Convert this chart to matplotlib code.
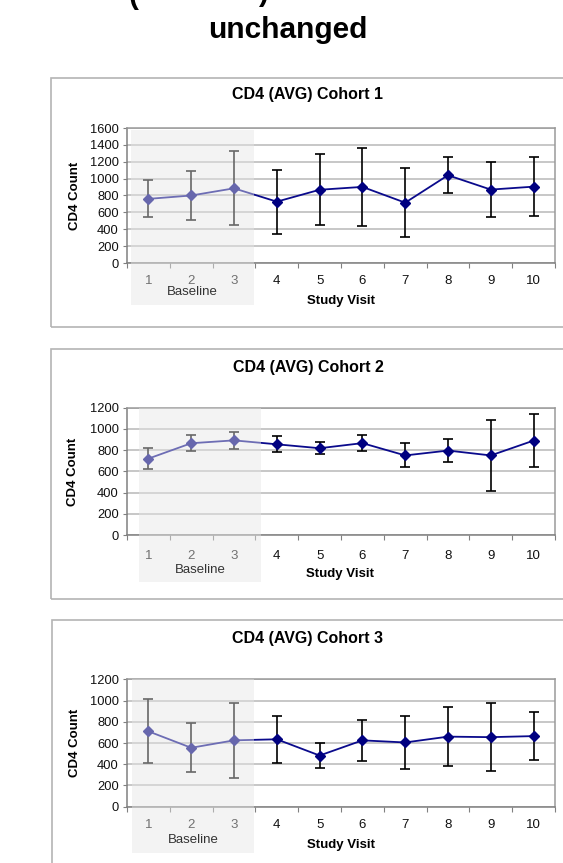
import numpy as np
import matplotlib
matplotlib.use('Agg')
import matplotlib.pyplot as plt
from matplotlib.patches import Rectangle

plt.rcParams['font.family'] = ['Liberation Sans', 'DejaVu Sans']

# data
visits = [1, 2, 3, 4, 5, 6, 7, 8, 9, 10]
titles = ['CD4 (AVG) Cohort 1', 'CD4 (AVG) Cohort 2', 'CD4 (AVG) Cohort 3']
cohort1_mean = [760, 800, 885, 727, 868, 902, 715, 1040, 870, 905]
cohort1_sd = [218, 292, 440, 380, 420, 465, 410, 215, 328, 350]
cohort2_mean = [720, 865, 892, 855, 818, 866, 750, 796, 750, 890]
cohort2_sd = [98, 75, 82, 76, 55, 72, 113, 105, 335, 247]
cohort3_mean = [710, 555, 625, 635, 482, 625, 605, 660, 655, 665]
cohort3_sd = [300, 230, 355, 220, 115, 190, 250, 275, 318, 225]
y_max = [1600, 1200, 1200]

# layout in pixels (x0, y0, x1, y1), y measured from the top
W, H = 563, 863
layout = [
    dict(ax=(127, 128, 555, 263), box=(50.7, 77.7, 620, 327), shade=(130.7, 130, 254, 305),
         title=95, ylab=(75, 196), xlab=(341, 301), base=(192, 292), pad=9),
    dict(ax=(127, 407.7, 555, 535), box=(50.7, 349, 620, 599), shade=(139, 408, 261, 582),
         title=367, ylab=(73, 471.7), xlab=(340, 574), base=(200, 570), pad=11),
    dict(ax=(127, 679.3, 555, 806.7), box=(51.7, 620, 620, 900), shade=(131.7, 679, 254, 853),
         title=639, ylab=(75, 743), xlab=(341, 845), base=(193, 840), pad=9),
]

def fx(x):
    return x / W

def fy(y):
    return 1 - y / H

def prect(r, **kw):
    x0, y0, x1, y1 = r
    return Rectangle((fx(x0), fy(y1)), (x1 - x0) / W, (y1 - y0) / H,
                     transform=fig.transFigure, **kw)

fig = plt.figure(figsize=(W / 100, H / 100), dpi=100)
fig.patch.set_facecolor('white')

# header text (top line is cut off)
fig.text(fx(288), fy(38), 'unchanged', fontsize=21.5, fontweight='bold',
         ha='center', va='baseline')
fig.text(fx(133), fy(4), '(', fontsize=21.5, fontweight='bold', ha='center', va='baseline')
fig.text(fx(263), fy(1), ')', fontsize=21.5, fontweight='bold', ha='center', va='baseline')

series = [(cohort1_mean, cohort1_sd), (cohort2_mean, cohort2_sd), (cohort3_mean, cohort3_sd)]
navy = '#0a0a8c'

for i, (mean, sd) in enumerate(series):
    L = layout[i]
    # outer chart frame
    fig.add_artist(prect(L['box'], facecolor='none', edgecolor='#b4b4b4', lw=1.2, zorder=-1))

    x0, y0, x1, y1 = L['ax']
    ax = fig.add_axes([fx(x0), fy(y1), (x1 - x0) / W, (y1 - y0) / H])
    ax.set_facecolor('white')
    ax.errorbar(visits, mean, yerr=sd, fmt='none', ecolor='black', elinewidth=1.2,
                capsize=3.5, capthick=1.2, zorder=3)
    ax.plot(visits, mean, color=navy, lw=1.3, marker='D', ms=4.8, mfc='#000080',
            mec='#000080', zorder=4)

    ax.set_xlim(0.5, 10.5)
    ax.set_ylim(0, y_max[i])
    ax.set_yticks(np.arange(0, y_max[i] + 1, 200))
    ax.yaxis.grid(True, color='#bdbdbd', lw=1.2)
    ax.set_axisbelow(True)
    ax.set_xticks(visits)
    ax.set_xticks(np.arange(0.5, 11, 1), minor=True)
    ax.tick_params(axis='x', which='major', length=0, pad=L['pad'], labelsize=9.5,
                   labelcolor='#111111')
    ax.tick_params(axis='x', which='minor', length=3.5, width=0.8, color='#808080')
    ax.tick_params(axis='y', length=3, width=0.8, color='#808080', pad=3,
                   labelsize=9.3, labelcolor='#111111')
    for s in ax.spines.values():
        s.set_color('#9a9a9a')
        s.set_linewidth(1.1)
    ax.spines['bottom'].set_color('#808080')
    ax.spines['left'].set_color('#808080')

    # texts
    fig.text(fx(308), fy(L['title']), titles[i], fontsize=11.5, fontweight='bold',
             ha='center', va='center')
    fig.text(fx(L['ylab'][0]), fy(L['ylab'][1]), 'CD4 Count', fontsize=9.5,
             fontweight='bold', rotation=90, ha='center', va='center')
    fig.text(fx(L['xlab'][0]), fy(L['xlab'][1]), 'Study Visit', fontsize=9.5,
             fontweight='bold', ha='center', va='center')

    # baseline shading laid over visits 1-3
    fig.add_artist(prect(L['shade'], facecolor='#e6e6e6', edgecolor='none', alpha=0.45, zorder=5))
    fig.text(fx(L['base'][0]), fy(L['base'][1]), 'Baseline', fontsize=9.5, color='#333333',
             ha='center', va='center', zorder=6)

fig.savefig('out.png', dpi=100)
